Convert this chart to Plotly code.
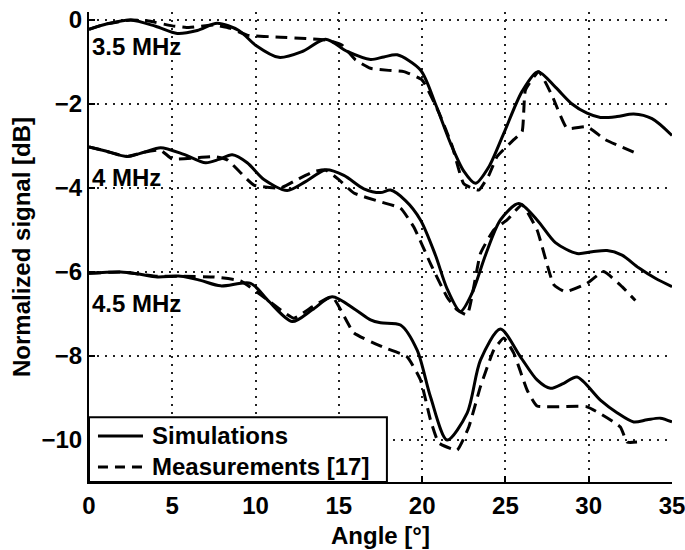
import plotly.graph_objects as go

# 3.5 MHz
sim35_x = [0, 1, 2.5, 4, 5.3, 6.5, 7.7, 9, 10, 11.4, 12.8, 14.2, 15.5, 16.9, 17.7, 18.5, 19.9, 20.8, 21.7, 22.5, 23.2, 24, 24.9, 26, 26.95, 28, 29, 29.9, 30.7, 31.7, 32.7, 33.8, 35]
sim35_y = [-0.22, -0.1, 0.0, -0.15, -0.32, -0.25, -0.08, -0.25, -0.6, -0.89, -0.75, -0.46, -0.75, -0.94, -0.88, -0.83, -1.19, -2.0, -2.93, -3.6, -3.89, -3.5, -2.7, -1.7, -1.23, -1.6, -2.0, -2.22, -2.32, -2.3, -2.24, -2.35, -2.75]
mea35_x = [0, 1, 2.5, 3.5, 5, 6, 7.5, 8.5, 9.5, 11.5, 13, 14.3, 15.2, 16, 16.9, 18, 18.9, 20, 21, 21.8, 22.5, 23.4, 24, 24.5, 25.5, 26, 26.2, 27, 27.8, 28.7, 29.9, 31, 32.9]
mea35_y = [-0.22, -0.1, 0.0, -0.02, -0.14, -0.18, -0.12, -0.2, -0.36, -0.41, -0.44, -0.48, -0.6, -0.95, -1.15, -1.2, -1.23, -1.43, -2.2, -3.0, -3.9, -4.05, -3.7, -3.25, -2.85, -2.66, -1.67, -1.23, -1.8, -2.58, -2.54, -2.85, -3.18]

# 4 MHz
sim4_x = [0, 1, 2.3, 3.3, 4.3, 5.7, 7, 7.8, 8.6, 9.5, 10.5, 11.9, 13, 14.2, 15.3, 16.5, 17.5, 18.1, 19, 19.9, 20.8, 21.5, 22.3, 23, 23.8, 24.7, 25.8, 26.9, 28, 29.3, 30.2, 31.1, 32, 33, 34, 35]
sim4_y = [-3.02, -3.12, -3.25, -3.15, -3.04, -3.2, -3.4, -3.32, -3.21, -3.4, -3.8, -4.06, -3.85, -3.57, -3.7, -4.02, -4.11, -4.05, -4.3, -4.76, -5.6, -6.4, -6.94, -6.5, -5.6, -4.76, -4.37, -4.76, -5.3, -5.56, -5.52, -5.49, -5.6, -5.9, -6.15, -6.35]
mea4_x = [0, 1, 2.3, 3.3, 4.3, 5, 6.5, 7.5, 8.3, 9.9, 11.5, 12.5, 13.5, 14.2, 15, 15.9, 17.5, 18.7, 19.5, 20.5, 21.5, 22.1, 22.7, 23.5, 24.3, 25.1, 26, 26.9, 27.9, 28.6, 29.9, 30.9, 32.0, 32.8]
mea4_y = [-3.02, -3.12, -3.25, -3.15, -3.1, -3.31, -3.28, -3.25, -3.33, -3.93, -4.0, -3.8, -3.61, -3.57, -3.8, -4.12, -4.33, -4.48, -4.93, -5.8, -6.6, -6.9, -7.02, -5.56, -5.0, -4.76, -4.4, -5.0, -6.3, -6.47, -6.27, -5.99, -6.35, -6.68]

# 4.5 MHz
sim45_x = [0, 1.9, 3, 4.1, 5.5, 6.7, 7.9, 9.7, 10.8, 12.2, 13.4, 14.6, 16, 16.9, 17.5, 18.7, 19.7, 20.5, 21.5, 22.7, 23.5, 24.7, 25.9, 26.9, 27.7, 28.5, 29.3, 30.7, 31.7, 32.7, 33.5, 34.3, 35]
sim45_y = [-6.03, -6.0, -6.05, -6.12, -6.1, -6.2, -6.33, -6.27, -6.7, -7.18, -6.9, -6.59, -6.9, -7.14, -7.21, -7.26, -7.86, -8.97, -10.0, -9.36, -8.1, -7.36, -8.02, -8.57, -8.77, -8.65, -8.5, -9.05, -9.35, -9.57, -9.52, -9.48, -9.57]
mea45_x = [0, 1.9, 4.1, 5.5, 7.5, 9.1, 10.5, 12.3, 13.4, 14.6, 15.9, 17.6, 19.1, 19.9, 20.5, 21, 22.1, 22.8, 23.5, 24.3, 24.9, 25.5, 26.3, 26.9, 29.9, 31.9, 32.3, 32.9]
mea45_y = [-6.03, -6.0, -6.1, -6.1, -6.12, -6.21, -6.6, -7.1, -6.83, -6.59, -7.45, -7.78, -8.02, -8.57, -9.52, -10.07, -10.24, -9.69, -8.73, -7.86, -7.57, -7.93, -8.81, -9.19, -9.21, -9.69, -10.05, -10.05]

freq_labels = ["3.5 MHz", "4 MHz", "4.5 MHz"]
freq_label_y = [-0.64, -3.74, -6.74]
legend_names = ["Simulations", "Measurements [17]"]

FONT = "Arial, Liberation Sans, sans-serif"
FS = 24
MEAS_DASH = "12px,7px"
fig = go.Figure()

sims = [(sim35_x, sim35_y), (sim4_x, sim4_y), (sim45_x, sim45_y)]
meas = [(mea35_x, mea35_y), (mea4_x, mea4_y), (mea45_x, mea45_y)]

for i, (mx, my) in enumerate(meas):
    fig.add_trace(go.Scatter(x=mx, y=my, mode="lines",
                             line=dict(color="black", width=3, dash=MEAS_DASH, shape="spline", smoothing=0.4),
                             name=legend_names[1], showlegend=False))
for i, (sx, sy) in enumerate(sims):
    fig.add_trace(go.Scatter(x=sx, y=sy, mode="lines",
                             line=dict(color="black", width=3, shape="spline", smoothing=0.8),
                             name=legend_names[0], showlegend=False))

for lab, ly in zip(freq_labels, freq_label_y):
    fig.add_annotation(x=0, y=ly, xref="x", yref="y", text=lab, showarrow=False,
                       xanchor="left", yanchor="middle", xshift=1,
                       font=dict(family=FONT, size=FS, color="black", weight="bold"))

# Legend box (drawn in plot-area fractions)
fig.add_shape(type="rect", xref="paper", yref="paper", x0=0, x1=0.511, y0=0, y1=0.138,
              line=dict(color="black", width=2), fillcolor="white", layer="above")
leg_y = [0.098, 0.032]
leg_dash = ["solid", "10px,7px"]
for name, yy, dsh in zip(legend_names, leg_y, leg_dash):
    fig.add_shape(type="line", xref="paper", yref="paper", x0=0.0154, x1=0.0926, y0=yy, y1=yy,
                  line=dict(color="black", width=3, dash=dsh), layer="above")
    fig.add_annotation(x=0.1046, y=yy, xref="paper", yref="paper", text=name, showarrow=False,
                       xanchor="left", yanchor="middle",
                       font=dict(family=FONT, size=FS, color="black", weight="bold"))

axis_common = dict(showline=True, linecolor="black", linewidth=2,
                   ticks="inside", ticklen=6, tickwidth=1.5, tickcolor="black",
                   showgrid=True, gridcolor="#222222", gridwidth=2, griddash="2px,6px",
                   zeroline=False, mirror=False, ticklabeloverflow="allow",
                   tickfont=dict(family=FONT, size=FS, color="black", weight="bold"))

fig.update_xaxes(range=[0, 35], tick0=0, dtick=5, ticklabelstandoff=1,
                 title=dict(text="Angle [°]", font=dict(family=FONT, size=FS, color="black", weight="bold"), standoff=9),
                 **axis_common)
fig.update_yaxes(range=[-11, 0.19], tick0=0, dtick=2,
                 title=dict(text="Normalized signal [dB]", font=dict(family=FONT, size=FS, color="black", weight="bold"), standoff=4),
                 **axis_common)

fig.update_layout(
    width=685, height=550,
    margin=dict(l=89, r=13, t=12, b=68, autoexpand=False),
    plot_bgcolor="white", paper_bgcolor="white",
    showlegend=False,
)

fig.write_html("out.html")
